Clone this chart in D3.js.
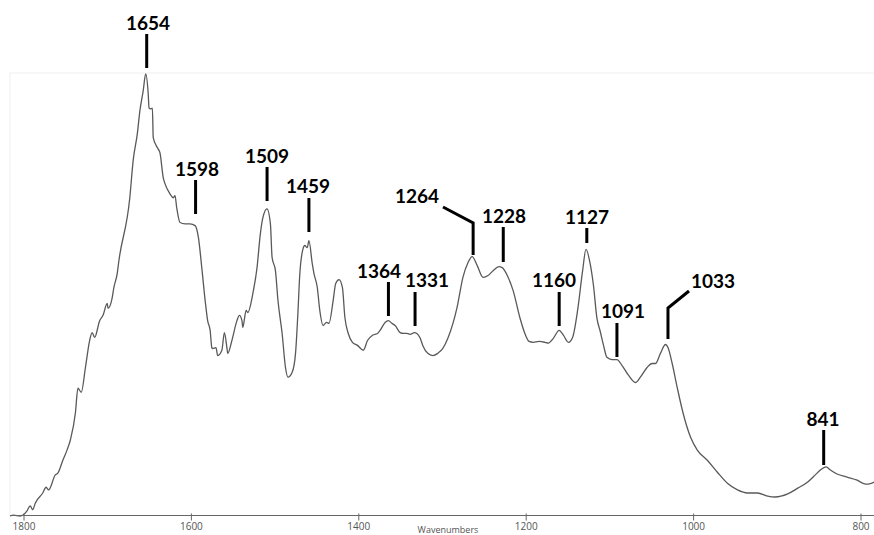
<!DOCTYPE html>
<html>
<head>
<meta charset="utf-8">
<script src="https://cdn.jsdelivr.net/npm/d3@7"></script>
<style>
  html, body { margin: 0; padding: 0; background: #fff; }
  svg { display: block; }
</style>
</head>
<body>
<svg id="chart" width="874" height="535"></svg>
<script>
// ---- data ----
const wavenumbers = [1816,1812,1804,1796,1792,1789,1786,1777,1773,1770,1762,1759,1753,1748,1744,1738,1735,1731,1726,1721,1718,1715,1709,1705,1700,1699,1694,1692,1688,1686,1673,1669,1664,1661,1657,1654,1651,1650,1648,1646,1645,1640,1637,1633,1631,1625,1621,1619,1617,1613,1607,1601,1595,1591,1587,1583,1580,1577,1575,1574,1570,1568,1563,1560,1557,1556,1551,1545,1542,1539,1538,1534,1532,1526,1521,1517,1514,1509,1505,1503,1499,1496,1491,1487,1484,1479,1475,1472,1470,1466,1464,1461,1459,1455,1453,1449,1446,1442,1438,1435,1430,1427,1423,1419,1416,1412,1407,1401,1394,1389,1383,1377,1374,1368,1364,1360,1356,1350,1346,1342,1338,1333,1330,1326,1323,1317,1311,1305,1299,1293,1282,1275,1269,1264,1258,1251,1245,1239,1232,1228,1221,1215,1207,1201,1196,1191,1184,1177,1173,1167,1160,1155,1149,1144,1138,1132,1128,1123,1119,1115,1111,1107,1103,1097,1091,1085,1077,1069,1063,1055,1049,1045,1039,1033,1030,1025,1019,1012,1003,995,983,971,959,947,935,923,911,902,887,875,863,854,848,841,836,828,816,804,797,791,783];
const absorbance = [0.000,0.002,0.000,0.011,0.023,0.014,0.029,0.052,0.065,0.059,0.093,0.097,0.126,0.149,0.172,0.233,0.289,0.280,0.336,0.397,0.415,0.404,0.442,0.454,0.481,0.470,0.494,0.517,0.549,0.578,0.720,0.804,0.865,0.916,0.962,1.000,0.955,0.923,0.921,0.923,0.856,0.833,0.822,0.765,0.752,0.729,0.720,0.725,0.698,0.664,0.661,0.661,0.657,0.630,0.562,0.488,0.442,0.420,0.381,0.379,0.381,0.363,0.375,0.415,0.381,0.368,0.397,0.442,0.454,0.442,0.427,0.465,0.460,0.503,0.562,0.639,0.675,0.695,0.661,0.585,0.555,0.488,0.413,0.336,0.314,0.325,0.368,0.465,0.544,0.605,0.612,0.607,0.623,0.571,0.549,0.517,0.465,0.431,0.438,0.436,0.488,0.526,0.535,0.517,0.449,0.413,0.393,0.386,0.375,0.397,0.409,0.413,0.420,0.438,0.442,0.436,0.431,0.415,0.413,0.413,0.411,0.415,0.413,0.402,0.386,0.368,0.363,0.368,0.379,0.402,0.472,0.540,0.573,0.587,0.567,0.540,0.544,0.555,0.564,0.562,0.540,0.510,0.449,0.413,0.395,0.393,0.395,0.393,0.391,0.402,0.420,0.409,0.393,0.404,0.465,0.555,0.603,0.571,0.521,0.449,0.418,0.386,0.359,0.354,0.354,0.341,0.318,0.302,0.314,0.336,0.345,0.345,0.368,0.388,0.381,0.345,0.291,0.233,0.178,0.149,0.126,0.099,0.074,0.059,0.052,0.052,0.045,0.043,0.050,0.063,0.077,0.093,0.104,0.111,0.104,0.095,0.088,0.081,0.074,0.072,0.077];
const tickValues = [1800, 1600, 1400, 1200, 1000, 800];
const peakLabels = [1654, 1598, 1509, 1459, 1364, 1331, 1264, 1228, 1160, 1127, 1091, 1033, 841];
const axisTitle = "Wavenumbers";

// ---- layout (pixel positions of callouts, not data) ----
const calloutLayout = {
  1654: {tx: 148, ty: 30, y1: 34, y2: 68, dx: 1},
  1598: {tx: 197, ty: 176, y1: 180, y2: 214, dx: 3},
  1509: {tx: 267, ty: 163, y1: 167, y2: 201},
  1459: {tx: 308, ty: 193, y1: 198, y2: 232},
  1364: {tx: 379, ty: 278, y1: 282, y2: 316},
  1331: {tx: 427, ty: 287, y1: 292, y2: 326, dx: -1},
  1264: {tx: 417, ty: 203, y1: 223, y2: 255, elbow: [443, 207], dx: 1},
  1228: {tx: 504, ty: 223, y1: 227, y2: 262, dx: 1},
  1160: {tx: 554, ty: 287, y1: 292, y2: 326},
  1127: {tx: 587, ty: 224, y1: 228, y2: 243},
  1091: {tx: 623, ty: 318, y1: 323, y2: 357},
  1033: {tx: 713, ty: 288, y1: 308, y2: 339, elbow: [689, 291], dx: 2.5},
  841:  {tx: 823, ty: 426, y1: 430, y2: 465, dx: -2.5}
};

const svg = d3.select("#chart");
const plotLeft = 10, plotTop = 73, plotRight = 874, baseY = 515.5;

const x = d3.scaleLinear().domain([1800, 800]).range([23.5, 860.5]);
const y = d3.scaleLinear().domain([0, 1]).range([516, 74]);

// faint frame
svg.append("rect")
  .attr("x", plotLeft).attr("y", plotTop)
  .attr("width", plotRight - plotLeft + 5).attr("height", baseY - plotTop)
  .attr("fill", "none").attr("stroke", "#f0f0f0").attr("stroke-width", 1);

// clip
svg.append("clipPath").attr("id", "clip")
  .append("rect").attr("x", plotLeft).attr("y", 0)
  .attr("width", plotRight - plotLeft).attr("height", baseY + 2);

const data = wavenumbers.map((w, i) => ({w, a: absorbance[i]}));
const line = d3.line().x(d => x(d.w)).y(d => y(d.a)).curve(d3.curveMonotoneX);

svg.append("path")
  .datum(data)
  .attr("clip-path", "url(#clip)")
  .attr("d", line)
  .attr("fill", "none")
  .attr("stroke", "#595959")
  .attr("stroke-width", 1.3)
  .attr("stroke-linejoin", "round");

// axis
const axisG = svg.append("g").attr("transform", `translate(0,${baseY})`);
const axis = d3.axisBottom(x).tickValues(tickValues).tickSize(5).tickSizeOuter(0).tickFormat(d3.format("d"));
axisG.call(axis);
axisG.select(".domain").remove();
axisG.append("line").attr("x1", plotLeft).attr("x2", plotRight).attr("y1", 0).attr("y2", 0)
  .attr("stroke", "#666").attr("stroke-width", 1.2);
axisG.selectAll(".tick line").attr("stroke", "#666").attr("y1", -2);
axisG.selectAll(".tick text")
  .attr("y", 7)
  .attr("fill", "#555")
  .style("font-family", "'Open Sans', 'Noto Sans', sans-serif")
  .style("font-size", "10px");

svg.append("text")
  .attr("x", 448).attr("y", 533)
  .attr("text-anchor", "middle")
  .attr("fill", "#555")
  .style("font-family", "'Open Sans', 'Noto Sans', sans-serif")
  .style("font-size", "9px")
  .text(axisTitle);

// callouts
const cg = svg.append("g");
peakLabels.forEach(p => {
  const L = calloutLayout[p];
  const lx = x(p) + (L.dx || 0);
  if (L.elbow) {
    cg.append("polyline")
      .attr("points", `${L.elbow[0]},${L.elbow[1]} ${lx},${L.y1} ${lx},${L.y2}`)
      .attr("fill", "none").attr("stroke", "#000").attr("stroke-width", 3);
  } else {
    cg.append("line")
      .attr("x1", lx).attr("x2", lx).attr("y1", L.y1).attr("y2", L.y2)
      .attr("stroke", "#000").attr("stroke-width", 3);
  }
  cg.append("text")
    .attr("x", L.tx).attr("y", L.ty)
    .attr("text-anchor", "middle")
    .attr("fill", "#000")
    .style("font-family", "Lato, 'Open Sans', sans-serif")
    .style("font-weight", "700")
    .style("font-size", "19px")
    .text(p);
});
</script>
</body>
</html>
